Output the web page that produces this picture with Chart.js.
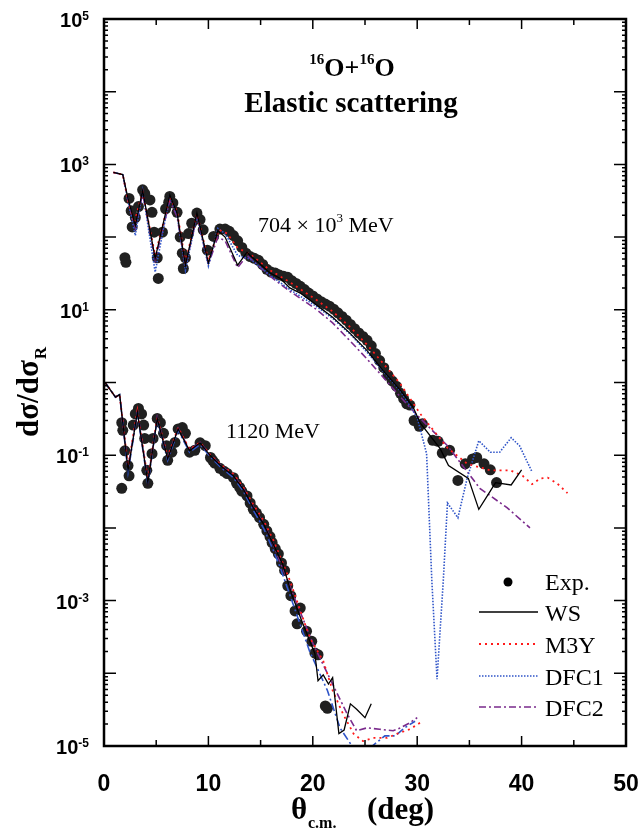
<!DOCTYPE html>
<html>
<head>
<meta charset="utf-8">
<script src="https://cdn.jsdelivr.net/npm/chart.js@4.4.0/dist/chart.umd.min.js"></script>
<style>
  html, body { margin: 0; padding: 0; background: #fff; }
</style>
</head>
<body>
<canvas id="grafico" width="640" height="831"></canvas>
<script>
// Etiquetas de los ejes
const ticksX = [0, 10, 20, 30, 40, 50];
const exponentesY = [5, 3, 1, -1, -3, -5];

// Serie superior (704 x 10^3 MeV): datos experimentales
const expSupX = [2.0, 2.1, 2.4, 2.6, 2.7, 3.0, 3.3, 3.7, 3.9, 4.4, 4.6, 4.8, 5.1, 5.2, 5.6, 5.9, 6.2, 6.3, 6.6, 7.0,
  7.3, 7.5, 7.6, 7.8, 8.1, 8.4, 8.9, 9.2, 9.5, 9.9, 10.5, 11.1, 11.6, 12.0, 12.4, 12.8, 13.2, 13.6, 14.0, 14.4,
  14.8, 15.2, 15.6, 16.0, 16.4, 16.8, 17.2, 17.6, 18.0, 18.4, 18.8, 19.2, 19.6, 20.0, 20.4, 20.8, 21.2, 21.6, 22.0, 22.4,
  22.8, 23.2, 23.6, 24.0, 24.4, 24.8, 25.2, 25.6, 26.0, 26.4, 26.8, 27.2, 27.6, 28.0, 28.4, 28.7, 29.0, 29.3, 29.7, 30.2,
  30.5, 31.5, 32.0, 32.4, 33.1, 33.9, 34.6, 35.3, 35.7, 36.4, 37.0, 37.6];
const expSupY = [52, 45, 340, 230, 138, 186, 263, 447, 398, 324, 219, 117, 52, 27, 117, 245, 302, 363, 295, 219,
  100, 60, 37, 52, 112, 155, 214, 174, 126, 66, 102, 129, 129, 120, 105, 89, 72, 60, 54, 51,
  48, 42, 36, 33, 32, 30, 29, 28, 25, 23, 21, 19, 17, 15.5, 14.1, 12.9, 12.0, 11.2, 10.2, 9.1,
  8.1, 7.2, 6.3, 5.5, 4.8, 4.3, 3.8, 3.2, 2.5, 2.0, 1.6, 1.26, 1.05, 0.89, 0.71, 0.60, 0.51, 0.49, 0.30, 0.25,
  0.27, 0.16, 0.155, 0.107, 0.117, 0.045, 0.076, 0.089, 0.093, 0.076, 0.063, 0.042];

// Serie superior: calculos
const wsSupX = [0.9, 1.8, 2.3, 3.0, 3.7, 4.9, 6.3, 7.0, 7.8, 8.9, 10.0, 10.9, 11.6, 12.8, 13.7, 14.0, 15.0, 15.9, 16.9, 17.8,
  18.8, 20.4, 21.9, 23.6, 25.2, 26.7, 28.4, 29.6, 30.3, 32.2, 33.0, 34.9, 35.9, 37.0, 37.5, 39.0, 40.0];
const wsSupY = [776, 724, 339, 145, 437, 51, 380, 214, 41, 214, 44, 123, 100, 41, 62, 56, 42, 32, 27, 20,
  17, 11.5, 7.9, 4.7, 2.75, 1.48, 0.78, 0.46, 0.275, 0.123, 0.072, 0.048, 0.018, 0.032, 0.042, 0.039, 0.063];

const m3ySupX = [0.9, 1.8, 2.3, 2.9, 3.7, 4.9, 6.3, 7.0, 7.8, 8.9, 10.0, 11.0, 11.8, 12.8, 14.0, 15.9, 17.8, 20.4, 21.9, 23.6,
  25.2, 26.7, 28.4, 30.3, 32.9, 34.8, 37.0, 38.9, 40.1, 41.0, 41.8, 42.5, 43.4, 44.4];
const m3ySupY = [776, 724, 316, 158, 417, 56, 355, 224, 45, 209, 48, 126, 112, 71, 58, 35, 24, 13.5, 9.5, 5.75,
  3.3, 1.86, 0.95, 0.37, 0.126, 0.076, 0.062, 0.062, 0.052, 0.040, 0.048, 0.049, 0.041, 0.030];

const dfc1SupX = [0.9, 1.8, 2.3, 3.0, 3.7, 4.9, 6.3, 7.0, 7.8, 8.9, 10.0, 10.9, 11.6, 12.8, 14.0, 15.9, 17.8, 20.4, 21.9, 23.6,
  25.2, 26.7, 28.4, 30.0, 30.9, 31.4, 31.9, 32.5, 32.9, 33.9, 34.8, 35.9, 37.0, 37.9, 39.0, 39.8, 41.0];
const dfc1SupY = [776, 724, 316, 105, 437, 33, 372, 200, 35, 200, 40, 132, 112, 56, 50, 30, 19, 11, 7.6, 4.6,
  2.6, 1.45, 0.76, 0.33, 0.105, 0.0019, 0.000083, 0.0019, 0.022, 0.0138, 0.049, 0.158, 0.11, 0.11, 0.174, 0.135, 0.059];

const dfc2SupX = [0.9, 1.8, 2.3, 3.0, 3.7, 4.9, 6.3, 7.0, 7.8, 8.9, 10.0, 10.9, 11.6, 12.8, 13.7, 15.9, 17.8, 20.4, 21.9, 23.6,
  25.2, 26.7, 28.4, 30.0, 32.9, 36.0, 38.6, 40.8];
const dfc2SupY = [776, 724, 316, 132, 398, 48, 316, 191, 40, 191, 42, 100, 89, 38, 56, 29, 18, 10, 6.6, 3.7,
  2.1, 1.2, 0.63, 0.355, 0.135, 0.035, 0.019, 0.010];

// Serie inferior (1120 MeV): datos experimentales
const expInfX = [1.7, 1.7, 1.8, 2.0, 2.3, 2.4, 2.8, 3.0, 3.3, 3.6, 3.8, 3.9, 4.1, 4.2, 4.6, 4.7, 5.1, 5.4, 5.7, 6.0,
  6.1, 6.5, 6.8, 7.1, 7.5, 7.8, 8.2, 8.7, 9.2, 9.7, 10.2, 10.4, 10.6, 11.1, 11.5, 11.8, 12.4, 12.7, 13.0, 13.2,
  13.7, 14.0, 14.3, 14.6, 14.9, 15.3, 15.6, 15.9, 16.1, 16.4, 16.7, 17.0, 17.3, 17.6, 17.9, 18.3, 18.5, 18.8, 19.4, 19.9,
  20.2, 20.5, 21.2, 21.4];
const expInfY = [0.035, 0.28, 0.22, 0.115, 0.072, 0.052, 0.26, 0.37, 0.44, 0.37, 0.26, 0.17, 0.062, 0.041, 0.105, 0.17, 0.32, 0.28, 0.20, 0.135,
  0.085, 0.11, 0.15, 0.23, 0.24, 0.20, 0.11, 0.117, 0.148, 0.135, 0.093, 0.085, 0.078, 0.066, 0.060, 0.056, 0.049, 0.041, 0.036, 0.032,
  0.0275, 0.022, 0.018, 0.016, 0.0138, 0.0112, 0.0091, 0.0076, 0.0063, 0.0052, 0.0044, 0.0033, 0.0026, 0.0016, 0.00117, 0.00072, 0.00048, 0.00079, 0.00038, 0.000275,
  0.00019, 0.00018, 0.0000355, 0.000033];

// Serie inferior: calculos
const wsInfX = [0.1, 1.1, 1.5, 2.3, 3.2, 4.2, 5.1, 6.1, 7.1, 8.2, 9.2, 10.2, 11.2, 12.4, 13.4, 14.3, 15.3, 16.2, 17.1, 18.0,
  19.0, 20.2, 20.5, 21.0, 21.5, 21.9, 22.5, 23.0, 23.6, 24.2, 25.0, 25.6];
const wsInfY = [1.0, 0.63, 0.68, 0.062, 0.39, 0.042, 0.32, 0.089, 0.23, 0.115, 0.148, 0.098, 0.071, 0.052, 0.033, 0.019, 0.0112, 0.006, 0.0032, 0.0012,
  0.0005, 0.000186, 0.000079, 0.000095, 0.000071, 0.000087, 0.0000148, 0.0000166, 0.000038, 0.000032, 0.0000245, 0.000038];

const m3yInfX = [0.1, 1.1, 1.5, 2.3, 3.2, 4.2, 5.1, 6.1, 7.1, 8.2, 9.2, 10.2, 11.2, 12.4, 13.4, 14.3, 15.3, 16.2, 17.8, 19.7,
  21.0, 21.9, 22.9, 23.9, 24.8, 25.8, 27.1, 28.1, 29.3, 30.3];
const m3yInfY = [1.0, 0.63, 0.68, 0.07, 0.41, 0.046, 0.33, 0.095, 0.24, 0.12, 0.15, 0.1, 0.074, 0.055, 0.035, 0.021, 0.0125, 0.0069, 0.0019, 0.00031,
  0.000148, 0.000058, 0.0000275, 0.0000148, 0.0000117, 0.0000129, 0.0000129, 0.0000148, 0.000017, 0.000021];

const dfc1InfX = [0.1, 1.1, 1.5, 2.3, 3.2, 4.2, 5.1, 6.1, 7.1, 8.2, 9.2, 10.2, 11.2, 12.4, 13.4, 14.3, 15.3, 16.2, 16.9, 19.7,
  21.4, 22.6, 23.9, 24.7, 25.7, 26.9, 27.9, 28.8, 29.8];
const dfc1InfY = [1.0, 0.63, 0.68, 0.058, 0.38, 0.040, 0.31, 0.085, 0.22, 0.11, 0.14, 0.094, 0.068, 0.049, 0.031, 0.0175, 0.0098, 0.005, 0.0028, 0.0002,
  0.000058, 0.0000178, 0.0000093, 0.0000063, 0.00001, 0.0000138, 0.0000138, 0.0000178, 0.0000219];

const dfc2InfX = [0.1, 1.1, 1.5, 2.3, 3.2, 4.2, 5.1, 6.1, 7.1, 8.2, 9.2, 10.2, 11.2, 12.4, 13.4, 14.3, 15.3, 16.2, 18.1, 20.0,
  21.9, 23.3, 24.2, 25.2, 26.4, 27.7, 28.4, 29.3, 30.0];
const dfc2InfY = [1.0, 0.63, 0.68, 0.065, 0.40, 0.044, 0.33, 0.092, 0.235, 0.118, 0.15, 0.1, 0.072, 0.053, 0.034, 0.0195, 0.0115, 0.006, 0.00123, 0.00026,
  0.000071, 0.0000275, 0.0000162, 0.0000178, 0.000017, 0.0000162, 0.0000178, 0.0000209, 0.0000245];

// Estilos de cada curva
const estilos = {
  WS: { color: '#000000', dash: [], ancho: 1.3 },
  M3Y: { color: '#ff1a1a', dash: [2, 4], ancho: 1.8 },
  DFC1: { color: '#2f54c8', dash: [1.5, 1.5], ancho: 1.6 },
  DFC1b: { color: '#2f54c8', dash: [8, 3, 2, 3], ancho: 1.6 },
  DFC2: { color: '#7a2a8c', dash: [7, 3, 2, 3], ancho: 1.6 }
};

function puntos(xs, ys) {
  return xs.map((x, i) => ({ x: x, y: ys[i] }));
}

function curva(nombre, xs, ys, estilo) {
  return {
    label: nombre,
    data: puntos(xs, ys),
    showLine: true,
    borderColor: estilo.color,
    borderWidth: estilo.ancho,
    borderDash: estilo.dash,
    pointRadius: 0,
    fill: false,
    tension: 0,
    order: 1
  };
}

function experimento(xs, ys) {
  return {
    label: 'Exp.',
    data: puntos(xs, ys),
    showLine: false,
    pointRadius: 5.5,
    pointBackgroundColor: '#202020',
    pointBorderColor: '#202020',
    pointBorderWidth: 0,
    order: 2
  };
}

// Dibuja texto con un exponente (superindice)
function textoSup(ctx, partes, x, y) {
  let cx = x;
  partes.forEach(p => {
    ctx.font = p.font;
    ctx.fillText(p.t, cx, y + (p.dy || 0));
    cx += ctx.measureText(p.t).width;
  });
  return cx;
}
function anchoPartes(ctx, partes) {
  let w = 0;
  partes.forEach(p => { ctx.font = p.font; w += ctx.measureText(p.t).width; });
  return w;
}

const decoracion = {
  id: 'decoracion',
  afterDatasetsDraw(chart) {
    const { ctx, chartArea: a, scales: { x, y } } = chart;
    ctx.save();
    ctx.strokeStyle = '#000';
    ctx.fillStyle = '#000';

    // marcas del eje x (hacia dentro, abajo y arriba)
    ctx.lineWidth = 1.5;
    ctx.beginPath();
    for (let v = 0; v <= 50; v += 5) {
      const px = x.getPixelForValue(v);
      const largo = v % 10 === 0 ? 10 : 6;
      ctx.moveTo(px, a.bottom); ctx.lineTo(px, a.bottom - largo);
      ctx.moveTo(px, a.top); ctx.lineTo(px, a.top + largo);
    }
    // marcas del eje y (logaritmico)
    for (let e = -5; e < 5; e++) {
      for (let m = 1; m < 10; m++) {
        const py = y.getPixelForValue(m * Math.pow(10, e));
        const largo = m === 1 ? 12 : 4;
        ctx.moveTo(a.left, py); ctx.lineTo(a.left + largo, py);
        ctx.moveTo(a.right, py); ctx.lineTo(a.right - largo, py);
      }
    }
    ctx.stroke();

    // marco
    ctx.lineWidth = 2.5;
    ctx.strokeRect(a.left, a.top, a.right - a.left, a.bottom - a.top);

    // etiquetas eje x
    ctx.font = 'bold 23px "Liberation Sans", Arial, sans-serif';
    ctx.textAlign = 'center';
    ctx.textBaseline = 'alphabetic';
    ticksX.forEach(v => ctx.fillText(String(v), x.getPixelForValue(v), 791));

    // etiquetas eje y: 10^n
    ctx.textAlign = 'left';
    exponentesY.forEach(e => {
      const py = y.getPixelForValue(Math.pow(10, e));
      const partes = [
        { t: '10', font: 'bold 20px "Liberation Sans", Arial, sans-serif', dy: 8 },
        { t: String(e), font: 'bold 12px "Liberation Sans", Arial, sans-serif', dy: 1 }
      ];
      const w = anchoPartes(ctx, partes);
      textoSup(ctx, partes, 89 - w, py);
    });

    // titulo del eje x
    ctx.font = 'bold 31px "Liberation Serif", "Times New Roman", serif';
    ctx.fillText('\u03b8', 291, 819);
    ctx.font = 'bold 16px "Liberation Serif", "Times New Roman", serif';
    ctx.fillText('c.m.', 308, 828);
    ctx.font = 'bold 31px "Liberation Serif", "Times New Roman", serif';
    ctx.fillText('(deg)', 367, 819);

    // titulo del eje y (girado)
    ctx.save();
    ctx.translate(38, 437);
    ctx.rotate(-Math.PI / 2);
    ctx.font = 'bold 31px "Liberation Serif", "Times New Roman", serif';
    ctx.fillText('d\u03c3/d\u03c3', 0, 0);
    const wy = ctx.measureText('d\u03c3/d\u03c3').width;
    ctx.font = 'bold 17px "Liberation Serif", "Times New Roman", serif';
    ctx.fillText('R', wy + 1, 8);
    ctx.restore();

    // titulo del grafico
    const serifB = (s) => 'bold ' + s + 'px "Liberation Serif", "Times New Roman", serif';
    const tit = [
      { t: '16', font: serifB(15), dy: -12 },
      { t: 'O+', font: serifB(26) },
      { t: '16', font: serifB(15), dy: -12 },
      { t: 'O', font: serifB(26) }
    ];
    textoSup(ctx, tit, 352 - anchoPartes(ctx, tit) / 2, 76);
    ctx.font = serifB(29);
    ctx.textAlign = 'center';
    ctx.fillText('Elastic scattering', 351, 112);
    ctx.textAlign = 'left';

    // energias
    const serif = (s) => s + 'px "Liberation Serif", "Times New Roman", serif';
    textoSup(ctx, [
      { t: '704 \u00d7 10', font: serif(22) },
      { t: '3', font: serif(13), dy: -10 },
      { t: ' MeV', font: serif(22) }
    ], 258, 232);
    ctx.font = serif(22);
    ctx.fillText('1120 MeV', 226, 438);

    // leyenda
    ctx.beginPath();
    ctx.arc(508, 582, 4.5, 0, Math.PI * 2);
    ctx.fill();
    ctx.font = serif(24);
    ctx.fillText('Exp.', 545, 590);
    const filas = [['WS', 612], ['M3Y', 644], ['DFC1', 676], ['DFC2', 707]];
    filas.forEach(([nombre, ly]) => {
      const est = estilos[nombre];
      ctx.save();
      ctx.strokeStyle = est.color;
      ctx.lineWidth = est.ancho;
      ctx.setLineDash(est.dash);
      ctx.beginPath();
      ctx.moveTo(479, ly); ctx.lineTo(538, ly);
      ctx.stroke();
      ctx.restore();
      ctx.fillStyle = '#000';
      ctx.fillText(nombre, 545, ly + 9);
    });

    ctx.restore();
  }
};

const ctxGrafico = document.getElementById('grafico').getContext('2d');
const grafico = new Chart(ctxGrafico, {
  type: 'scatter',
  data: {
    datasets: [
      curva('WS', wsSupX, wsSupY, estilos.WS),
      curva('M3Y', m3ySupX, m3ySupY, estilos.M3Y),
      curva('DFC1', dfc1SupX, dfc1SupY, estilos.DFC1),
      curva('DFC2', dfc2SupX, dfc2SupY, estilos.DFC2),
      curva('WS', wsInfX, wsInfY, estilos.WS),
      curva('M3Y', m3yInfX, m3yInfY, estilos.M3Y),
      curva('DFC1', dfc1InfX, dfc1InfY, estilos.DFC1b),
      curva('DFC2', dfc2InfX, dfc2InfY, estilos.DFC2),
      experimento(expSupX, expSupY),
      experimento(expInfX, expInfY)
    ]
  },
  options: {
    responsive: false,
    animation: false,
    devicePixelRatio: 1,
    layout: { padding: { top: 19, right: 14, left: 0, bottom: 0 } },
    plugins: {
      legend: { display: false },
      tooltip: { enabled: false }
    },
    scales: {
      x: {
        type: 'linear',
        min: 0,
        max: 50,
        ticks: { display: false },
        grid: { display: false },
        border: { display: false },
        afterFit: s => { s.height = 85; }
      },
      y: {
        type: 'logarithmic',
        min: 1e-5,
        max: 1e5,
        ticks: { display: false },
        grid: { display: false },
        border: { display: false },
        afterFit: s => { s.width = 104; }
      }
    }
  },
  plugins: [decoracion]
});
</script>
</body>
</html>
